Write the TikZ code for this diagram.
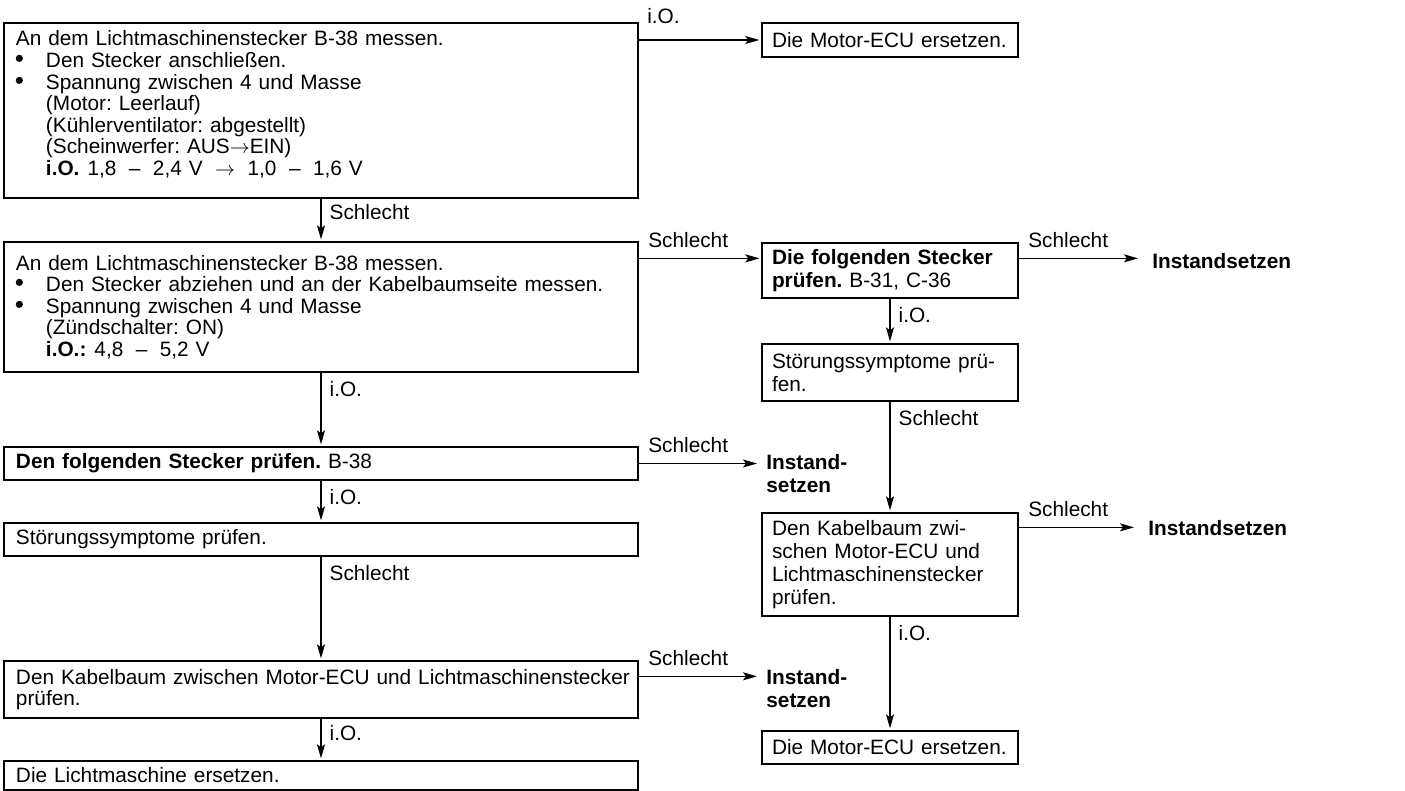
\documentclass[tikz,border=0pt]{standalone}
\usepackage{fontspec}
\setmainfont{Liberation Sans}
\usetikzlibrary{arrows.meta,calc}

% hanging indent for list items and their continuation lines
\newcommand{\ind}[1]{\hspace*{15pt}#1}
% justified line inside a narrow box
\newcommand{\jline}[1]{\makebox[\hsize][s]{#1}}
% spacing inside value ranges
\newcommand{\gp}{\hspace{0.6em}}
\newcommand{\toarr}{\ensuremath{\rightarrow}}

\begin{document}
\frenchspacing
\begin{tikzpicture}[x=0.5pt,y=-0.5pt,
  font=\fontsize{10.4pt}{10.8pt}\selectfont,
  every node/.style={text=black},
  lbox/.style={draw, line width=0.65pt, text width=305pt, inner xsep=6pt,
    inner ysep=0pt, align=left},
  rbox/.style={draw, line width=0.65pt, text width=118pt, inner xsep=5pt,
    inner ysep=0pt, align=left, font=\fontsize{10.4pt}{11.5pt}\selectfont},
  fix/.style={inner sep=1pt, anchor=west, align=left,
    font=\fontsize{10.4pt}{11.5pt}\selectfont\bfseries},
  arr/.style={draw, line width=0.65pt,
    -{Stealth[length=7pt, width=4pt, inset=1.5pt]}, shorten >=1pt},
  hlab/.style={inner sep=0pt, anchor=base west, xshift=4.5pt, yshift=5.5pt},
  vlab/.style={inner sep=0pt, anchor=base west, xshift=4pt, yshift=-12pt},
  dot/.style={fill=black}
]
\useasboundingbox (0,0) rectangle (1405,791);

% ---- left column ----
\node[lbox, minimum height=87.5pt] (b1) at (321,110.5) {%
  An dem Lichtmaschinenstecker B-38 messen.\\
  \ind{Den Stecker anschließen.}\\
  \ind{Spannung zwischen 4 und Masse}\\
  \ind{(Motor: Leerlauf)}\\
  \ind{(Kühlerventilator: abgestellt)}\\
  \ind{(Scheinwerfer: AUS\toarr EIN)}\\
  \ind{\textbf{i.O.}\hspace{4pt}1,8\gp–\gp2,4 V\gp\toarr\gp1,0\gp–\gp1,6 V}\par
  \vspace*{6pt}};

\node[lbox, minimum height=65pt] (b2) at (321,307) {%
  An dem Lichtmaschinenstecker B-38 messen.\\
  \ind{Den Stecker abziehen und an der Kabelbaumseite messen.}\\
  \ind{Spannung zwischen 4 und Masse}\\
  \ind{(Zündschalter: ON)}\\
  \ind{\textbf{i.O.:}\hspace{4pt}4,8\gp–\gp5,2 V}};

% list bullets
\fill[dot] ([xshift=8pt, yshift=-18pt]b1.north west) circle[radius=1.8pt];
\fill[dot] ([xshift=8pt, yshift=-29pt]b1.north west) circle[radius=1.8pt];
\fill[dot] ([xshift=8pt, yshift=-20.5pt]b2.north west) circle[radius=1.8pt];
\fill[dot] ([xshift=8pt, yshift=-31.5pt]b2.north west) circle[radius=1.8pt];

\node[lbox, minimum height=16.5pt] (b3) at (321,463.5)
  {\textbf{Den folgenden Stecker prüfen.} B-38};
\node[lbox, minimum height=16.5pt] (b4) at (321,539.5)
  {Störungssymptome prüfen.};
\node[lbox, minimum height=28.5pt] (b5) at (321,689.5)
  {\mbox{Den Kabelbaum zwischen Motor-ECU und Lichtmaschinenstecker}\\prüfen.};
\node[lbox, minimum height=14.5pt] (b6) at (321,775.5)
  {Die Lichtmaschine ersetzen.};

% ---- right column ----
\node[rbox, minimum height=17pt] (e1) at (890,40) {Die Motor-ECU ersetzen.};
\node[rbox, minimum height=27.5pt] (r1) at (890,270.5)
  {\textbf{\jline{Die folgenden Stecker}}\\\textbf{prüfen.} B-31, C-36};
\node[rbox, minimum height=28.5pt] (r2) at (890,372.5)
  {\jline{Störungssymptome prü-}\\fen.};
\node[rbox, minimum height=51.5pt] (r3) at (890,564.5)
  {\jline{Den Kabelbaum zwi-}\\\jline{schen Motor-ECU und}\\Lichtmaschinenstecker\\prüfen.};
\node[rbox, minimum height=16.5pt] (r4) at (890,747.5) {Die Motor-ECU ersetzen.};

% ---- repair targets ----
\node[fix] (fx1) at (1150,261) {Instandsetzen};
\node[fix] (fx2) at (764,473.5) {Instand-\\setzen};
\node[fix] (fx3) at (764,688.5) {Instand-\\setzen};
\node[fix] (fx4) at (1146,528) {Instandsetzen};

% ---- branch points on box edges ----
\coordinate (p2) at ([yshift=-8.5pt]b2.north east);
\coordinate (p5) at ([yshift=-8pt]b5.north east);
\coordinate (p3) at ([yshift=-7.5pt]r3.north east);

% ---- connectors ----
\draw[arr] (b1.east |- e1.west) -- (e1.west)
  node[pos=0, hlab, xshift=-0.5pt, yshift=2.5pt] (l1) {i.O.};
\draw[arr] (b1.south) -- (b2.north) node[pos=0, vlab, yshift=1.5pt] (l2) {Schlecht};
\draw[arr] (p2) -- (p2 -| r1.west) node[pos=0, hlab] (l3) {Schlecht};
\draw[arr, shorten >=6pt] (p2 -| r1.east) -- (p2 -| fx1.west)
  node[pos=0, hlab] (l4) {Schlecht};
\draw[arr] (r1.south) -- (r2.north) node[pos=0, vlab] (l5) {i.O.};
\draw[arr] (r2.south) -- (r3.north) node[pos=0, vlab] (l6) {Schlecht};
\draw[arr, shorten >=6pt] (p3) -- (p3 -| fx4.west) node[pos=0, hlab] (l7) {Schlecht};
\draw[arr] (r3.south) -- (r4.north) node[pos=0, vlab] (l8) {i.O.};

\draw[arr] (b2.south) -- (b3.north) node[pos=0, vlab] (l9) {i.O.};
\draw[arr, shorten >=3.5pt] (b3.east) -- (b3.east -| fx2.west)
  node[pos=0, hlab] (l10) {Schlecht};
\draw[arr] (b3.south) -- (b4.north) node[pos=0, vlab] (l11) {i.O.};
\draw[arr] (b4.south) -- (b5.north) node[pos=0, vlab] (l12) {Schlecht};
\draw[arr, shorten >=3.5pt] (p5) -- (p5 -| fx3.west) node[pos=0, hlab] (l13) {Schlecht};
\draw[arr] (b5.south) -- (b6.north) node[pos=0, vlab, yshift=1pt] (l14) {i.O.};
\end{tikzpicture}
\end{document}
